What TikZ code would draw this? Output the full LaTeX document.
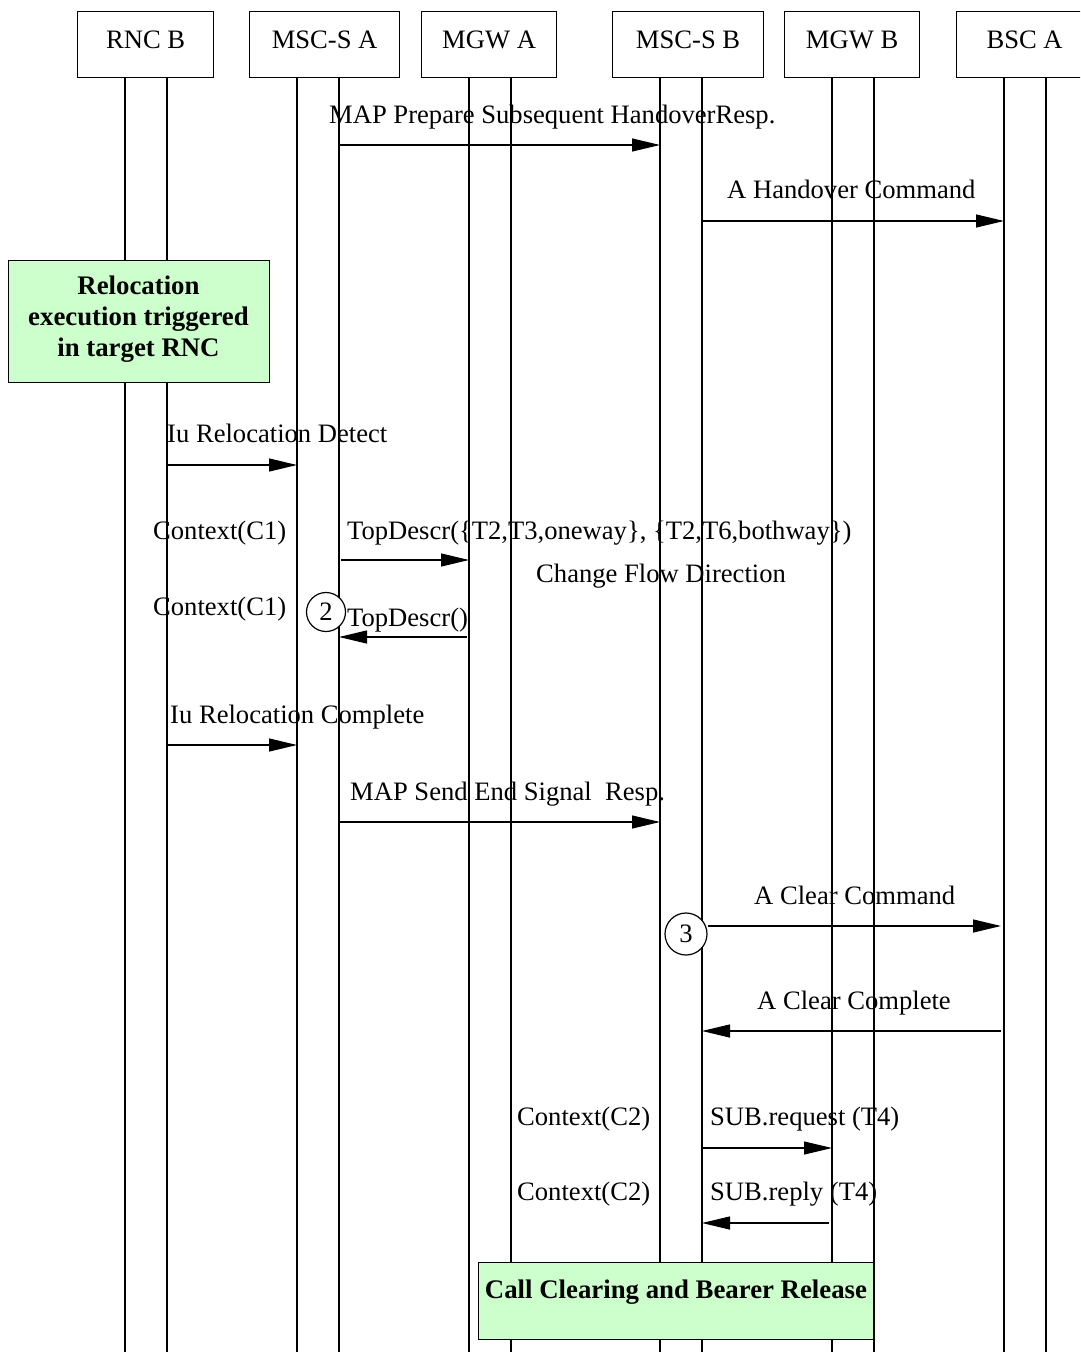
\documentclass[tikz,border=0pt]{standalone}
\usepackage{fontspec}
\setmainfont{Liberation Serif}
\usetikzlibrary{arrows.meta}
\definecolor{notegreen}{HTML}{CCFFCC}
\begin{document}
\begin{tikzpicture}[x=1pt,y=-1pt,
  every node/.style={font=\fontsize{26.6}{31}\selectfont, inner sep=0pt},
  hdr/.style={draw, line width=1.2pt, minimum height=66pt, text height=18pt, text depth=10pt, anchor=north west},
  life/.style={line width=1.2pt},
  msg/.style={line width=1.2pt, -{Triangle[length=28pt,width=13pt]}},
  lbl/.style={anchor=base west},
  note/.style={draw, line width=1.2pt, fill=notegreen, anchor=north west},
  notetxt/.style={font=\fontsize{26.8}{31}\selectfont\bfseries},
  num/.style={draw, circle, line width=1.2pt, minimum size=39pt, fill=white}
]
\useasboundingbox (0,0) rectangle (1080,1354);
\clip (0,0) rectangle (1080,1354);
\fill[white] (0,0) rectangle (1080,1354);

% headers
\node[hdr, minimum width=136pt] (rncB)  at (77,11)  {RNC B};
\node[hdr, minimum width=150pt] (mscA)  at (249,11) {MSC-S A};
\node[hdr, minimum width=135pt] (mgwA)  at (421,11) {MGW A};
\node[hdr, minimum width=151pt] (mscB)  at (612,11) {MSC-S B};
\node[hdr, minimum width=135pt] (mgwB)  at (784,11) {MGW B};
\node[hdr, minimum width=136pt] (bscA)  at (956,11) {BSC A};

% lifelines
\foreach \x/\n in {125/rnc1,167/rnc2,297/msa1,339/msa2,469/mga1,511/mga2,660/msb1,702/msb2,832/mgb1,874/mgb2,1004/bsc1,1046/bsc2}{
  \coordinate (\n t) at (\x,77);
  \coordinate (\n b) at (\x,1352);
  \draw[life] (\n t) -- (\n b);
}

% notes
\node[note, minimum width=261pt, minimum height=122pt] (reloc) at (8,260) {};
\node[notetxt, align=center] (reloct) at (138.5,319) {Relocation\\execution triggered\\in target RNC};
\node[note, minimum width=395pt, minimum height=77pt] (ccbr) at (478,1262) {};
\node[notetxt, anchor=base] (ccbrt) at (676,1298) {Call Clearing and Bearer Release};

% message end points
\coordinate (m1s) at (339,145);  \coordinate (m1e) at (660,145);
\coordinate (m2s) at (702,221);  \coordinate (m2e) at (1004,221);
\coordinate (m3s) at (167,465);  \coordinate (m3e) at (297,465);
\coordinate (m4s) at (341,560);  \coordinate (m4e) at (469,560);
\coordinate (m5s) at (467,637);  \coordinate (m5e) at (339,637);
\coordinate (m6s) at (167,745);  \coordinate (m6e) at (297,745);
\coordinate (m7s) at (339,822);  \coordinate (m7e) at (660,822);
\coordinate (m8e) at (1001,926);
\coordinate (m9s) at (1001,1031); \coordinate (m9e) at (702,1031);
\coordinate (m10s) at (702,1148); \coordinate (m10e) at (832,1148);
\coordinate (m11s) at (829,1223); \coordinate (m11e) at (702,1223);

% circles
\node[num] (c2) at (326,612) {2};
\node[num, minimum size=42pt] (c3) at (686,934) {3};

% messages
\draw[msg] (m1s) -- (m1e);
\draw[msg] (m2s) -- (m2e);
\draw[msg] (m3s) -- (m3e);
\draw[msg] (m4s) -- (m4e);
\draw[msg] (m5s) -- (m5e);
\draw[msg] (m6s) -- (m6e);
\draw[msg] (m7s) -- (m7e);
\draw[msg] (c3.east |- m8e) -- (m8e);
\draw[msg] (m9s) -- (m9e);
\draw[msg] (m10s) -- (m10e);
\draw[msg] (m11s) -- (m11e);

% labels
\node[lbl] (l1) at (329,123) {MAP Prepare Subsequent HandoverResp.};
\node[lbl] (l2) at (727,198) {A Handover Command};
\node[lbl] (l3) at (167,442) {Iu Relocation Detect};
\node[lbl] (l4a) at (153,539) {Context(C1)};
\node[lbl] (l4b) at (347,539) {TopDescr(\{T2,T3,oneway\}, \{T2,T6,bothway\})};
\node[lbl] (l4c) at (536,582) {Change Flow Direction};
\node[lbl] (l5a) at (153,615) {Context(C1)};
\node[lbl] (l5b) at (347,626) {TopDescr()};
\node[lbl] (l6) at (170,723) {Iu Relocation Complete};
\node[lbl] (l7) at (350,800) {MAP Send End Signal~~Resp.};
\node[lbl] (l8) at (754,904) {A Clear Command};
\node[lbl] (l9) at (757,1009) {A Clear Complete};
\node[lbl] (l10a) at (517,1125) {Context(C2)};
\node[lbl] (l10b) at (710,1125) {SUB.request (T4)};
\node[lbl] (l11a) at (517,1200) {Context(C2)};
\node[lbl] (l11b) at (710,1200) {SUB.reply (T4)};
\end{tikzpicture}
\end{document}
